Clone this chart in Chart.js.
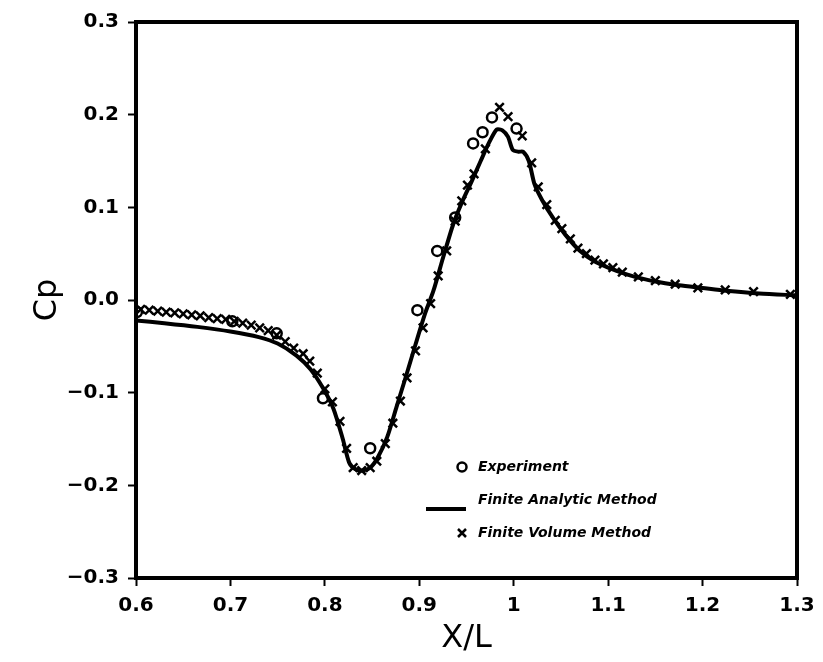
<!DOCTYPE html>
<html>
<head>
<meta charset="utf-8">
<script src="https://cdn.jsdelivr.net/npm/chart.js@4"></script>
<style>
  html, body { margin: 0; padding: 0; background: #fff; }
  #wrap { width: 823px; height: 662px; }
</style>
</head>
<body>
<div id="wrap"><canvas id="cp" width="823" height="662"></canvas></div>
<script>
/* Cp along X/L: experiment vs two numerical methods. */

// Experiment (circles)
const expX = [0.601, 0.702, 0.749, 0.798, 0.848, 0.898, 0.919, 0.938, 0.957, 0.967, 0.977, 1.003];
const expY = [-0.013, -0.023, -0.036, -0.106, -0.160, -0.011, 0.053, 0.089, 0.169, 0.181, 0.197, 0.185];

// Finite analytic method (solid line)
const faX = [0.600, 0.630, 0.665, 0.700, 0.730, 0.750, 0.770, 0.785, 0.798, 0.809, 0.819, 0.826,
             0.833, 0.840, 0.848, 0.856, 0.866, 0.876, 0.886, 0.896, 0.906, 0.915, 0.925, 0.936,
             0.945, 0.955, 0.965, 0.974, 0.982, 0.988, 0.994, 0.999, 1.005, 1.010, 1.016, 1.022,
             1.030, 1.042, 1.055, 1.070, 1.085, 1.100, 1.125, 1.150, 1.175, 1.200, 1.225, 1.260, 1.300];
const faY = [-0.022, -0.025, -0.029, -0.034, -0.040, -0.047, -0.060, -0.075, -0.095, -0.117, -0.150, -0.176,
             -0.183, -0.184, -0.181, -0.170, -0.148, -0.115, -0.082, -0.048, -0.015, 0.010, 0.045, 0.082,
             0.105, 0.127, 0.150, 0.170, 0.184, 0.183, 0.176, 0.162, 0.160, 0.160, 0.150, 0.125,
             0.108, 0.088, 0.070, 0.053, 0.042, 0.035, 0.026, 0.020, 0.016, 0.013, 0.010, 0.007, 0.005];

// Finite volume method (crosses)
const fvX = [0.605, 0.614, 0.623, 0.632, 0.641, 0.650, 0.659, 0.668, 0.677, 0.686, 0.695, 0.704,
             0.713, 0.722, 0.731, 0.740, 0.749, 0.758, 0.767, 0.777, 0.784, 0.792, 0.800, 0.808,
             0.816, 0.823, 0.830, 0.839, 0.848, 0.855, 0.864, 0.872, 0.880, 0.887, 0.896, 0.904,
             0.912, 0.920, 0.929, 0.938, 0.945, 0.951, 0.958, 0.970, 0.985, 0.994, 1.009, 1.019,
             1.026, 1.035, 1.044, 1.051, 1.060, 1.068, 1.077, 1.086, 1.095, 1.105, 1.115, 1.132,
             1.150, 1.171, 1.195, 1.224, 1.254, 1.293];
const fvY = [-0.010, -0.011, -0.012, -0.013, -0.014, -0.015, -0.016, -0.017, -0.019, -0.020, -0.021, -0.023,
             -0.025, -0.027, -0.030, -0.033, -0.038, -0.045, -0.052, -0.058, -0.066, -0.079, -0.096, -0.110,
             -0.131, -0.160, -0.181, -0.184, -0.181, -0.174, -0.155, -0.133, -0.109, -0.084, -0.055, -0.030,
             -0.004, 0.026, 0.053, 0.085, 0.107, 0.124, 0.136, 0.163, 0.208, 0.198, 0.177, 0.148,
             0.122, 0.103, 0.086, 0.077, 0.066, 0.056, 0.050, 0.043, 0.039, 0.035, 0.030, 0.025,
             0.021, 0.017, 0.013, 0.011, 0.009, 0.006];

const legendItems = ['Experiment', 'Finite Analytic Method', 'Finite Volume Method'];

const pts = (xs, ys) => xs.map((x, i) => ({ x: x, y: ys[i] }));

// thick frame around the plot + hand-placed legend inside the plot
const frameAndLegend = {
    id: 'frameAndLegend',
    afterDraw(chart) {
        const { ctx, chartArea: a } = chart;
        ctx.save();
        ctx.strokeStyle = '#000';
        ctx.lineWidth = 4;
        ctx.strokeRect(a.left, a.top, a.right - a.left, a.bottom - a.top);

        const lx = a.left + 326, ty = a.top + 445;
        ctx.font = 'bold italic 14px "DejaVu Sans"';
        ctx.fillStyle = '#000';
        ctx.textBaseline = 'middle';
        // circle
        ctx.lineWidth = 2.5;
        ctx.beginPath();
        ctx.arc(lx, ty, 4.5, 0, Math.PI * 2);
        ctx.stroke();
        ctx.fillText(legendItems[0], lx + 16, ty);
        // line
        ctx.lineWidth = 4;
        ctx.beginPath();
        ctx.moveTo(lx - 36, ty + 42);
        ctx.lineTo(lx + 4, ty + 42);
        ctx.stroke();
        ctx.fillText(legendItems[1], lx + 16, ty + 33);
        // cross
        ctx.lineWidth = 2.5;
        ctx.beginPath();
        ctx.moveTo(lx - 4, ty + 62); ctx.lineTo(lx + 4, ty + 70);
        ctx.moveTo(lx + 4, ty + 62); ctx.lineTo(lx - 4, ty + 70);
        ctx.stroke();
        ctx.fillText(legendItems[2], lx + 16, ty + 66);
        ctx.restore();
    }
};

new Chart(document.getElementById('cp'), {
    type: 'scatter',
    data: {
        datasets: [
            { label: legendItems[1], data: pts(faX, faY), showLine: true, borderColor: '#000',
              borderWidth: 4, pointRadius: 0, tension: 0.25, order: 2 },
            { label: legendItems[2], data: pts(fvX, fvY), pointStyle: 'crossRot', pointRadius: 6,
              borderColor: '#000', borderWidth: 2.5, order: 1 },
            { label: legendItems[0], data: pts(expX, expY), pointStyle: 'circle', pointRadius: 5,
              borderColor: '#000', backgroundColor: 'rgba(255,255,255,0)', borderWidth: 2.5, order: 0 },
        ],
    },
    options: {
        responsive: false,
        animation: false,
        layout: { padding: { top: 22, right: 26, left: 0, bottom: 0 } },
        plugins: { legend: { display: false }, tooltip: { enabled: false } },
        scales: {
            x: {
                type: 'linear', min: 0.6, max: 1.3,
                afterFit: (s) => { s.height = 84; },
                border: { color: '#000', width: 4 },
                grid: { drawOnChartArea: false, drawTicks: true, tickLength: 8, tickWidth: 2, color: '#000' },
                ticks: {
                    stepSize: 0.1, color: '#000', padding: 8,
                    font: { family: 'DejaVu Sans', weight: 'bold', size: 20 },
                    callback: (v) => String(Math.round(v * 10) / 10),
                },
                title: { display: true, text: 'X/L', color: '#000', padding: { top: 2 },
                         font: { family: 'DejaVu Sans', size: 32 } },
            },
            y: {
                min: -0.3, max: 0.3,
                afterFit: (s) => { s.width = 136; },
                border: { color: '#000', width: 4 },
                grid: { drawOnChartArea: false, drawTicks: true, tickLength: 8, tickWidth: 2, color: '#000' },
                ticks: {
                    stepSize: 0.1, color: '#000', padding: 9,
                    font: { family: 'DejaVu Sans', weight: 'bold', size: 20 },
                    callback: (v) => (Math.round(v * 10) / 10).toFixed(1).replace('-', '\u2212'),
                },
                title: { display: true, text: 'Cp', color: '#000', padding: { top: 28 },
                         font: { family: 'DejaVu Sans', size: 32 } },
            },
        },
    },
    plugins: [frameAndLegend],
});
</script>
</body>
</html>
